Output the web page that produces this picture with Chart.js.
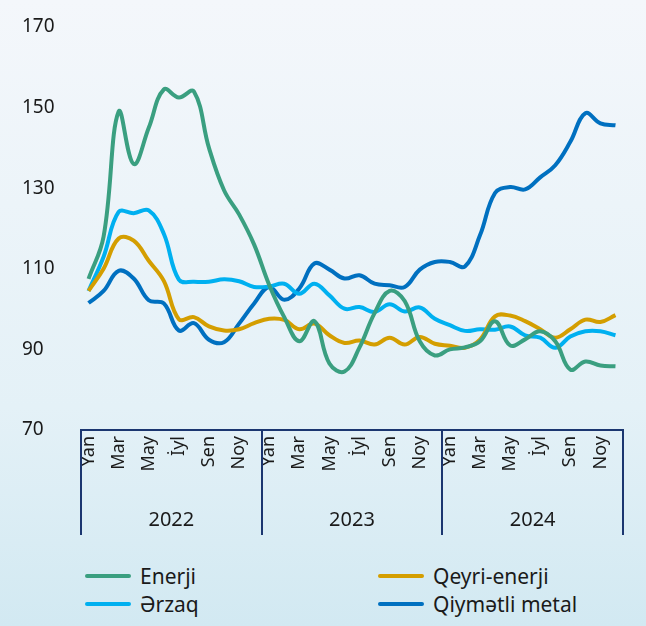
<!DOCTYPE html>
<html lang="az">
<head>
<meta charset="utf-8">
<title>Əmtəə qiymət indeksləri</title>
<script src="https://cdn.jsdelivr.net/npm/chart.js@4.4.1/dist/chart.umd.min.js"></script>
<style>
    html, body { margin: 0; padding: 0; }
    #wrap {
        position: relative;
        width: 646px;
        height: 626px;
        overflow: hidden;
        background: linear-gradient(to bottom, #f4f7fb 0%, #e4f1f7 65%, #d2e9f2 100%);
        font-family: 'Noto Sans', sans-serif;
        color: #1a1a1a;
    }
    #chartBox { position: absolute; left: 0; top: 0; width: 646px; height: 560px; }
    .legend-item {
        position: absolute;
        display: flex;
        align-items: center;
        font-size: 21px;
        line-height: 26px;
        white-space: nowrap;
    }
    .legend-item .swatch {
        display: inline-block;
        width: 46px;
        height: 4px;
        border-radius: 2px;
        margin-right: 9px;
    }
</style>
</head>
<body>
<div id="wrap">
    <div id="chartBox"><canvas id="commodityChart"></canvas></div>
    <div id="legend"></div>
</div>
<script>
// months shown on the axis (every other one is labelled)
const months = ['Yan', 'Fev', 'Mar', 'Apr', 'May', 'İyn', 'İyl', 'Avq', 'Sen', 'Okt', 'Noy', 'Dek'];
const years = ['2022', '2023', '2024'];
const yTicks = [70, 90, 110, 130, 150, 170];

// monthly index values, Yan 2022 .. Dek 2024
const enerji = [
    107.5, 118, 149, 136, 145, 154.5, 152.5, 154, 140, 129.5, 123.5, 116,
    106, 98, 92, 97, 86.5, 84.5, 90.5, 99, 104.5, 102, 92, 88.5,
    90, 90.5, 92, 97, 91, 92.5, 94.5, 92, 85, 87, 86, 85.8
];
const qeyriEnerji = [
    104.5, 110, 117.5, 117, 112, 107, 97.5, 98, 95.7, 94.7, 95, 96.5,
    97.6, 97.3, 95, 96.4, 93.5, 91.6, 92.2, 91.2, 92.9, 91.2, 93.1, 91.4,
    90.9, 90.4, 92.4, 98.2, 98.4, 97, 95, 92.9, 95, 97.4, 96.8, 98.5
];
const erzaq = [
    104.5, 113, 124.1, 123.8, 124.5, 118.7, 107.3, 106.8, 106.8, 107.4, 106.9, 105.5,
    105.6, 106.3, 103.8, 106.3, 103.4, 100.1, 100.5, 99.3, 101.2, 99.4, 100.4, 97.6,
    96, 94.6, 95, 94.9, 95.7, 93.5, 92.9, 90.4, 93.2, 94.5, 94.5, 93.5
];
const qiymetliMetal = [
    101.5, 104.5, 109.5, 107.6, 102.2, 101.4, 94.7, 96.5, 92.4, 91.8, 96.4, 101.4,
    105.5, 102.3, 105.1, 111.3, 109.8, 107.6, 108.4, 106.3, 105.9, 105.5, 109.8, 111.7,
    111.7, 110.6, 118.3, 128.8, 130.3, 129.7, 132.7, 135.7, 141.5, 148.6, 146.1, 145.6
];

const labels = [];
years.forEach(y => months.forEach(m => labels.push(m + ' ' + y)));

const series = [
    { label: 'Enerji', data: enerji, color: '#3a9f80' },
    { label: 'Qeyri-enerji', data: qeyriEnerji, color: '#d49e00' },
    { label: 'Ərzaq', data: erzaq, color: '#00b0f0' },
    { label: 'Qiymətli metal', data: qiymetliMetal, color: '#0070c0' }
];

const AXIS_COLOR = '#1b3670';
const TEXT_COLOR = '#1a1a1a';
const FONT = 'Noto Sans';

// draws the year group separators and year captions under the month labels
const yearGroups = {
    id: 'yearGroups',
    afterDraw(chart) {
        const xs = chart.scales.x;
        const ctx = chart.ctx;
        const bounds = [xs.left];
        for (let i = 1; i < years.length; i++) {
            const k = i * months.length;
            bounds.push((xs.getPixelForValue(k - 1) + xs.getPixelForValue(k)) / 2);
        }
        bounds.push(xs.right);

        ctx.save();
        ctx.strokeStyle = AXIS_COLOR;
        ctx.lineWidth = 2;
        bounds.forEach(b => {
            const x = Math.round(b);
            ctx.beginPath();
            ctx.moveTo(x, xs.top);
            ctx.lineTo(x, xs.top + 105);
            ctx.stroke();
        });
        ctx.fillStyle = TEXT_COLOR;
        ctx.font = '20px "' + FONT + '"';
        ctx.textAlign = 'center';
        ctx.textBaseline = 'middle';
        years.forEach((y, i) => {
            ctx.fillText(y, (bounds[i] + bounds[i + 1]) / 2, xs.top + 90);
        });
        ctx.restore();
    }
};

const chart = new Chart(document.getElementById('commodityChart'), {
    type: 'line',
    data: {
        labels: labels,
        datasets: series.map(s => ({
            label: s.label,
            data: s.data,
            borderColor: s.color,
            backgroundColor: s.color,
            borderWidth: 4,
            pointRadius: 0,
            tension: 0.4,
            fill: false
        }))
    },
    options: {
        responsive: true,
        maintainAspectRatio: false,
        animation: false,
        layout: { padding: { left: 22, right: 23, top: 27, bottom: 0 } },
        plugins: {
            legend: { display: false },
            tooltip: { enabled: false }
        },
        scales: {
            x: {
                offset: true,
                grid: { display: false, drawTicks: false },
                border: { display: true, color: AXIS_COLOR, width: 2 },
                ticks: {
                    autoSkip: false,
                    minRotation: 90,
                    maxRotation: 90,
                    padding: 6,
                    color: TEXT_COLOR,
                    font: { family: FONT, size: 18 },
                    callback: (val, idx) => idx % 2 === 0 ? months[idx % 12] : ''
                },
                afterFit: (scale) => { scale.height = 130; }
            },
            y: {
                min: 70,
                max: 170,
                afterBuildTicks: (scale) => { scale.ticks = yTicks.map(v => ({ value: v })); },
                grid: { display: false, drawTicks: false },
                border: { display: false },
                ticks: {
                    crossAlign: 'far',
                    padding: 0,
                    color: TEXT_COLOR,
                    font: { family: FONT, size: 19 }
                },
                afterFit: (scale) => { scale.width = 59; }
            }
        }
    },
    plugins: [yearGroups]
});

// html legend in two columns, built from the datasets
const legendPos = [
    { left: 85, top: 563 }, { left: 378, top: 563 },
    { left: 85, top: 591 }, { left: 378, top: 591 }
];
const legendEl = document.getElementById('legend');
chart.data.datasets.forEach((ds, i) => {
    const item = document.createElement('div');
    item.className = 'legend-item';
    item.style.left = legendPos[i].left + 'px';
    item.style.top = legendPos[i].top + 'px';
    item.innerHTML = '<span class="swatch" style="background:' + ds.borderColor + '"></span>' + ds.label;
    legendEl.appendChild(item);
});
</script>
</body>
</html>
